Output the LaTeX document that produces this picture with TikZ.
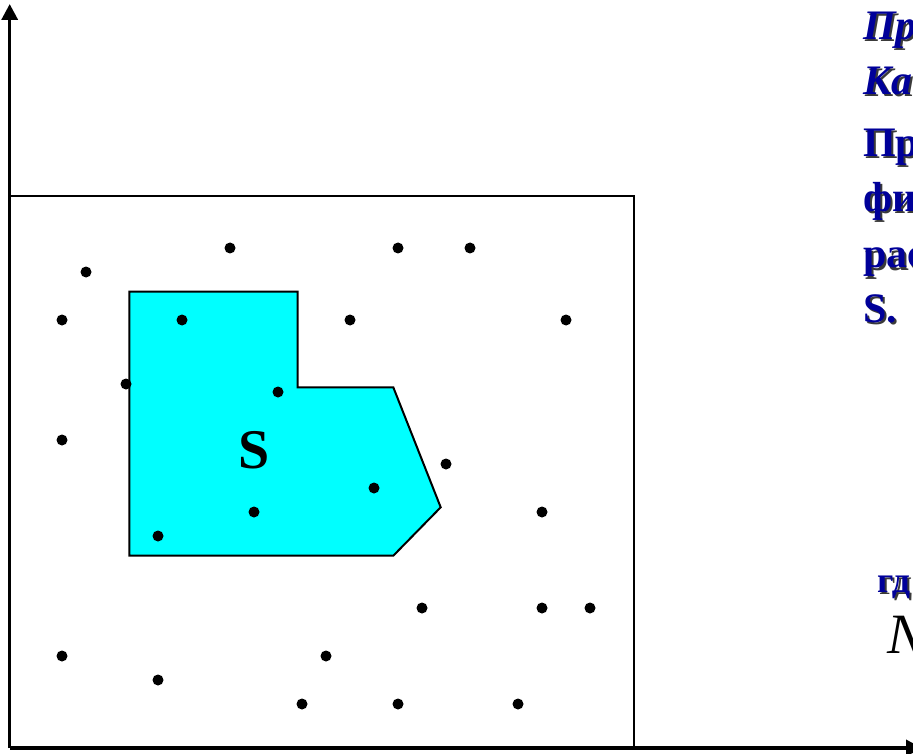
\documentclass[tikz,border=0pt]{standalone}
\usepackage{fontspec}
\setmainfont{Liberation Serif}
\usetikzlibrary{arrows.meta}
\definecolor{region}{HTML}{00FFFF}
\definecolor{navy}{HTML}{000099}
\definecolor{shade}{HTML}{3A3A3A}
\tikzset{
  axis/.style={line width=3.5pt, -{Triangle[length=16pt,width=16pt]}},
  frame/.style={draw, line width=2pt},
  area/.style={draw, line width=2pt, fill=region, line join=miter},
  pt/.style={circle, fill=black, inner sep=0pt, minimum size=11pt},
  txt/.style={anchor=base west, inner sep=0pt, text=navy, font=\fontsize{42}{50}\selectfont\bfseries},
  txtshadow/.style={txt, text=shade},
}
\newcommand{\shadowtext}[4]{%
  \node[txtshadow] at (#2+2,#3+2) {#4};
  \node[txt] (#1) at (#2,#3) {#4};}

\begin{document}
\begin{tikzpicture}[x=1pt, y=-1pt]
  \useasboundingbox (0,0) rectangle (913,754);
  % axes
  \coordinate (orig) at (9.7,748);
  \coordinate (ytip) at (9.7,4);
  \coordinate (xtip) at (922,748);
  \draw[axis] (orig) -- (ytip);
  \draw[axis] (orig) -- (xtip);
  % sampling frame
  \draw[frame] (9.7,195.7) -- (633.7,195.7) -- (633.7,748);
  % figure S
  \draw[area] (129.3,291.7) -- (297.7,291.7) -- (297.7,387.3) -- (393.3,387.3)
    -- (440.7,507.3) -- (393.3,555.7) -- (129.3,555.7) -- cycle;
  \node[font=\fontsize{56}{60}\selectfont\bfseries] (lblS) at (254,450) {S};
  % random points
  \foreach \x/\y [count=\i] in {230/248, 398/248, 470/248, 86/272, 62/320,
      182/320, 350/320, 566/320, 126/384, 278/392, 62/440, 446/464, 374/488,
      254/512, 542/512, 158/536, 422/608, 542/608, 590/608, 62/656, 326/656,
      158/680, 302/704, 398/704, 518/704}
    \node[pt] (p\i) at (\x,\y) {};
  % text on the right
  \shadowtext{t1}{863}{40}{\itshape Пр}
  \shadowtext{t2}{863}{95}{\itshape Ка}
  \shadowtext{t3}{863}{157}{Пр}
  \shadowtext{t4}{863}{212}{фи}
  \shadowtext{t5}{863}{268}{рас}
  \shadowtext{t6}{863}{322}{S.}
  \shadowtext{t7}{877}{592}{\fontsize{36}{40}\selectfont гд}
  \node[anchor=base west, inner sep=0pt, font=\fontsize{57}{60}\selectfont\itshape] (nn) at (887,653) {N};
\end{tikzpicture}
\end{document}
